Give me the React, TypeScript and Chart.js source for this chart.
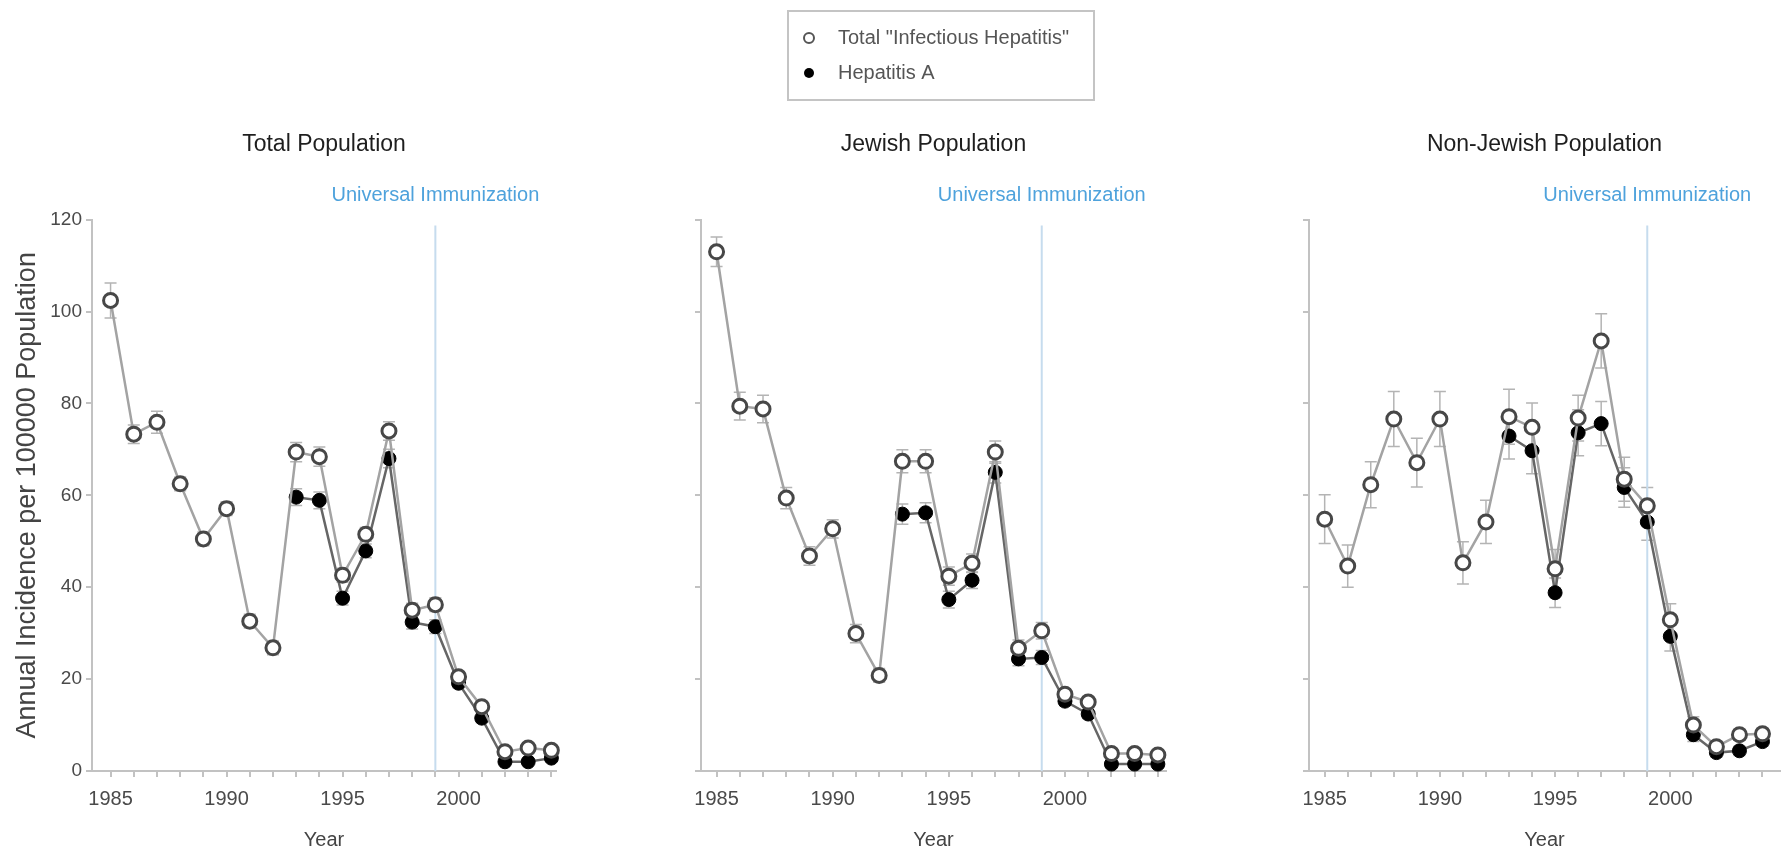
import React, { useEffect, useRef } from 'react';
import { Chart, registerables } from 'chart.js';

Chart.register(...registerables);
Chart.defaults.font.family = '"Liberation Sans", Arial, Helvetica, sans-serif';

// ---------- data ----------
const years = [1985, 1986, 1987, 1988, 1989, 1990, 1991, 1992, 1993, 1994, 1995, 1996, 1997, 1998, 1999, 2000, 2001, 2002, 2003, 2004];
const hepAYears = [1993, 1994, 1995, 1996, 1997, 1998, 1999, 2000, 2001, 2002, 2003, 2004];
const yTicks = [0, 20, 40, 60, 80, 100, 120];
const yearTickLabels = [1985, 1990, 1995, 2000];
const immunizationYear = 1999;
const immunizationLabel = 'Universal Immunization';
const legendLabels = ['Total "Infectious Hepatitis"', 'Hepatitis A'];
const panelTitles = ['Total Population', 'Jewish Population', 'Non-Jewish Population'];
const yAxisTitle = 'Annual Incidence per 100000 Population';
const xAxisTitle = 'Year';

// Total population
const totalAll = [102.4, 73.3, 75.9, 62.5, 50.5, 57.1, 32.6, 26.8, 69.4, 68.4, 42.6, 51.5, 74.0, 35.0, 36.2, 20.5, 14.0, 4.2, 5.0, 4.5];
const totalAllErr = [3.8, 2.0, 2.4, 1.5, 1.5, 1.5, 1.5, 1.5, 2.1, 2.1, 1.5, 1.5, 2.0, 1.5, 1.5, 1.0, 1.0, 0.8, 0.8, 0.8];
const hepAAll = [59.6, 58.9, 37.6, 47.9, 68.0, 32.4, 31.4, 19.1, 11.5, 2.0, 2.0, 2.8];
const hepAAllErr = [1.8, 1.8, 1.5, 1.5, 2.0, 1.5, 1.5, 1.0, 1.0, 0.6, 0.6, 0.6];

// Jewish population
const totalJewish = [113.0, 79.4, 78.8, 59.4, 46.8, 52.7, 29.9, 20.8, 67.4, 67.4, 42.4, 45.2, 69.4, 26.7, 30.5, 16.7, 15.0, 3.8, 3.8, 3.5];
const totalJewishErr = [3.2, 3.0, 3.0, 2.3, 2.0, 2.0, 2.0, 1.5, 2.5, 2.5, 2.0, 2.0, 2.4, 1.8, 1.8, 1.2, 1.2, 0.8, 0.8, 0.8];
const hepAJewish = [55.9, 56.2, 37.3, 41.5, 65.0, 24.4, 24.7, 15.2, 12.4, 1.5, 1.5, 1.5];
const hepAJewishErr = [2.2, 2.2, 1.8, 1.8, 2.3, 1.5, 1.5, 1.0, 1.0, 0.5, 0.5, 0.5];

// Non-Jewish population
const totalNonJewish = [54.8, 44.6, 62.3, 76.6, 67.1, 76.6, 45.3, 54.2, 77.1, 74.8, 44.0, 76.8, 93.6, 63.5, 57.7, 32.9, 10.0, 5.3, 7.9, 8.1];
const totalNonJewishErr = [5.3, 4.6, 5.0, 6.0, 5.3, 6.0, 4.6, 4.7, 6.0, 5.3, 4.2, 5.0, 5.9, 4.8, 4.0, 3.5, 1.8, 1.2, 1.2, 1.2];
const hepANonJewish = [72.9, 69.7, 38.8, 73.6, 75.6, 61.7, 54.2, 29.3, 7.9, 4.0, 4.4, 6.4];
const hepANonJewishErr = [5.0, 5.0, 3.2, 5.0, 4.8, 4.3, 4.0, 3.2, 1.5, 1.0, 1.0, 1.0];

// ---------- styling / layout ----------
const AXIS = '#c2c2c2';
const TEXT = '#4a4a4a';
const H = 850;

const panels = [
  { title: panelTitles[0], total: totalAll, totalErr: totalAllErr, hepA: hepAAll, hepAErr: hepAAllErr, left: 0, width: 566, yAxisWidth: 92, xMin: 1984.2, xMax: 2004.2, showY: true, legend: false },
  { title: panelTitles[1], total: totalJewish, totalErr: totalJewishErr, hepA: hepAJewish, hepAErr: hepAJewishErr, left: 600, width: 576, yAxisWidth: 101, xMin: 1984.33, xMax: 2004.35, showY: false, legend: true },
  { title: panelTitles[2], total: totalNonJewish, totalErr: totalNonJewishErr, hepA: hepANonJewish, hepAErr: hepANonJewishErr, left: 1200, width: 590, yAxisWidth: 109, xMin: 1984.32, xMax: 2004.76, showY: false, legend: false },
];

const errorBarPlugin = {
  id: 'errorBars',
  beforeDatasetsDraw(chart: any) {
    const { ctx, scales } = chart;
    const xs = scales.x, ys = scales.y;
    ctx.save();
    ctx.strokeStyle = '#b4b4b4';
    ctx.lineWidth = 1.5;
    chart.data.datasets.forEach((ds: any) => {
      ds.data.forEach((p: any, j: number) => {
        const e = ds.errors[j];
        const px = xs.getPixelForValue(p.x);
        const yt = ys.getPixelForValue(p.y + e);
        const yb = ys.getPixelForValue(p.y - e);
        ctx.beginPath();
        ctx.moveTo(px, yt); ctx.lineTo(px, yb);
        ctx.moveTo(px - 6, yt); ctx.lineTo(px + 6, yt);
        ctx.moveTo(px - 6, yb); ctx.lineTo(px + 6, yb);
        ctx.stroke();
      });
    });
    ctx.restore();
  },
};

const immunizationPlugin = {
  id: 'immunization',
  beforeDatasetsDraw(chart: any) {
    const { ctx, chartArea, scales } = chart;
    const px = scales.x.getPixelForValue(immunizationYear);
    ctx.save();
    ctx.strokeStyle = '#c6dcee';
    ctx.lineWidth = 2;
    ctx.beginPath();
    ctx.moveTo(px, chartArea.top + 6);
    ctx.lineTo(px, chartArea.bottom);
    ctx.stroke();
    ctx.restore();
  },
  afterDraw(chart: any) {
    const { ctx, chartArea, scales } = chart;
    const px = scales.x.getPixelForValue(immunizationYear);
    ctx.save();
    ctx.fillStyle = '#4ea2dc';
    ctx.font = '20px "Liberation Sans", Arial, sans-serif';
    ctx.textAlign = 'center';
    ctx.textBaseline = 'middle';
    ctx.fillText(immunizationLabel, px, chartArea.top - 24);
    ctx.restore();
  },
};

const legendPlugin = {
  id: 'boxLegend',
  afterDraw(chart: any) {
    const { ctx } = chart;
    const bx = 188, by = 11, bw = 306, bh = 89;
    ctx.save();
    ctx.strokeStyle = '#c4c4c4';
    ctx.lineWidth = 2;
    ctx.strokeRect(bx, by, bw, bh);
    const rows = [38, 73];
    ctx.font = '20px "Liberation Sans", Arial, sans-serif';
    ctx.textBaseline = 'middle';
    ctx.textAlign = 'left';
    legendLabels.forEach((label, i) => {
      const cy = rows[i];
      ctx.beginPath();
      ctx.arc(209, cy, 5, 0, Math.PI * 2);
      if (i === 0) {
        ctx.fillStyle = '#fff';
        ctx.fill();
        ctx.strokeStyle = '#555';
        ctx.lineWidth = 2;
        ctx.stroke();
      } else {
        ctx.fillStyle = '#000';
        ctx.fill();
      }
      ctx.fillStyle = '#555';
      ctx.fillText(label, 238, cy);
    });
    ctx.restore();
  },
};

function Panel({ cfg }: { cfg: any }) {
  const ref = useRef<HTMLCanvasElement>(null);
  useEffect(() => {
    const plugins: any[] = [errorBarPlugin, immunizationPlugin];
    if (cfg.legend) plugins.push(legendPlugin);
    const chart = new Chart(ref.current as HTMLCanvasElement, {
      type: 'line',
      data: {
        datasets: [
          {
            label: legendLabels[0],
            data: years.map((x, i) => ({ x, y: cfg.total[i] })),
            errors: cfg.totalErr,
            borderColor: '#a3a3a3',
            borderWidth: 2.5,
            pointStyle: 'circle',
            pointRadius: 7,
            pointBorderWidth: 3,
            pointBackgroundColor: '#ffffff',
            pointBorderColor: '#474747',
            clip: false,
          } as any,
          {
            label: legendLabels[1],
            data: hepAYears.map((x, i) => ({ x, y: cfg.hepA[i] })),
            errors: cfg.hepAErr,
            borderColor: '#666666',
            borderWidth: 2.5,
            pointStyle: 'circle',
            pointRadius: 7,
            pointBorderWidth: 1,
            pointBackgroundColor: '#000000',
            pointBorderColor: '#000000',
            clip: false,
          } as any,
        ],
      },
      options: {
        animation: false,
        responsive: false,
        events: [],
        layout: { padding: 0 },
        plugins: {
          legend: { display: false },
          tooltip: { enabled: false },
          title: {
            display: true,
            text: cfg.title,
            fullSize: false,
            color: '#1e1e1e',
            font: { size: 23, weight: 'normal' },
            padding: { top: 131, bottom: 61 },
          },
        },
        scales: {
          x: {
            type: 'linear',
            min: cfg.xMin,
            max: cfg.xMax,
            afterBuildTicks: (s: any) => { s.ticks = years.map((v) => ({ value: v })); },
            afterFit: (s: any) => { s.height = 79; },
            border: { display: true, color: AXIS, width: 2 },
            grid: { drawOnChartArea: false, drawTicks: true, tickLength: 6, color: AXIS, lineWidth: 2 },
            ticks: {
              autoSkip: false,
              maxRotation: 0,
              padding: 10,
              color: TEXT,
              font: { size: 20 },
              callback: (v: any) => (yearTickLabels.includes(Number(v)) ? String(v) : ''),
            },
            title: { display: true, text: xAxisTitle, color: '#444', font: { size: 20 }, padding: { top: 0, bottom: -2 } },
          },
          y: {
            type: 'linear',
            min: 0,
            max: 120,
            afterBuildTicks: (s: any) => { s.ticks = yTicks.map((v) => ({ value: v })); },
            afterFit: (s: any) => { s.width = cfg.yAxisWidth; },
            border: { display: true, color: AXIS, width: 2 },
            grid: { drawOnChartArea: false, drawTicks: true, tickLength: 6, color: AXIS, lineWidth: 2 },
            ticks: { display: cfg.showY, padding: 4, color: TEXT, font: { size: 19 } },
            title: { display: cfg.showY, text: yAxisTitle, color: '#444', font: { size: 27 }, padding: { top: 11, bottom: 0 } },
          },
        },
      } as any,
      plugins,
    });
    return () => chart.destroy();
  }, []);
  return (
    <canvas
      ref={ref}
      width={cfg.width}
      height={H}
      style={{ position: 'absolute', left: cfg.left, top: 0, width: cfg.width, height: H }}
    />
  );
}

export default function App() {
  return (
    <div style={{ position: 'absolute', left: 0, top: 0, width: 1790, height: H, background: '#ffffff', overflow: 'hidden' }}>
      {panels.map((p, i) => (
        <Panel key={i} cfg={p} />
      ))}
    </div>
  );
}
